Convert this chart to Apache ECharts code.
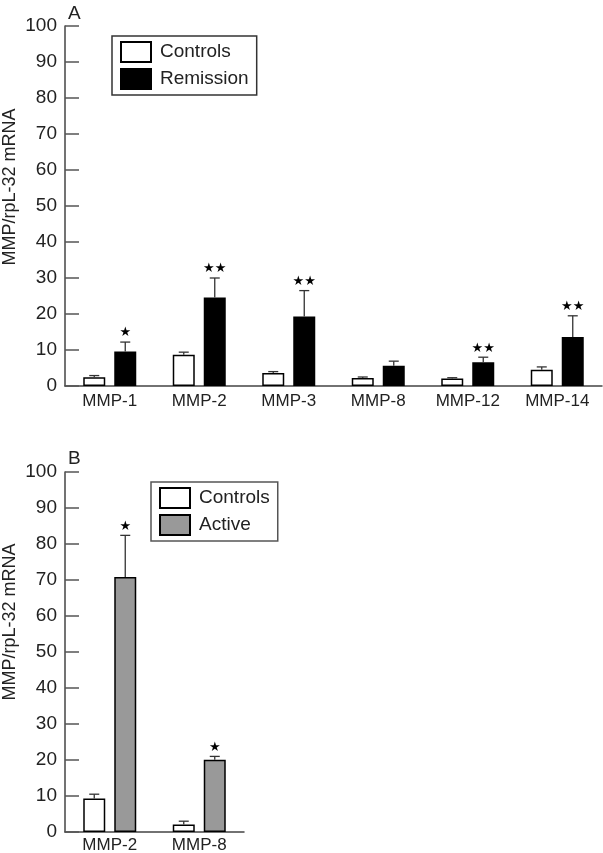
<!DOCTYPE html>
<html>
<head>
<meta charset="utf-8">
<script src="https://cdn.jsdelivr.net/npm/echarts@6/dist/echarts.min.js"></script>
<style>
html,body{margin:0;padding:0;background:#fff;}
#chart{width:603px;height:853px;}
</style>
</head>
<body>
<div id="chart"></div>
<script>
// ---- Data ----
var categoriesA = ['MMP-1', 'MMP-2', 'MMP-3', 'MMP-8', 'MMP-12', 'MMP-14'];
var controlsA = [2.4, 8.7, 3.6, 2.2, 2.1, 4.5];
var controlsAErr = [0.5, 0.7, 0.4, 0.3, 0.2, 0.8];
var remissionA = [9.6, 24.6, 19.3, 5.6, 6.6, 13.6];
var remissionAErr = [2.6, 5.4, 7.2, 1.3, 1.4, 5.9];
var remissionAStars = ['★', '★★', '★★', '', '★★', '★★'];

var categoriesB = ['MMP-2', 'MMP-8'];
var controlsB = [9.3, 2.1];
var controlsBErr = [1.2, 0.9];
var activeB = [70.8, 20.1];
var activeBErr = [11.6, 0.9];
var activeBStars = ['★', '★'];

var yTicks = [0, 10, 20, 30, 40, 50, 60, 70, 80, 90, 100];
var yTitle = 'MMP/rpL-32 mRNA';

// ---- Styles ----
var FONT = 'Liberation Sans';
var BAR_W = 22, BAR_GAP = 9;
var OFFSET = (BAR_W + BAR_GAP) / 2;
var AXIS_COLOR = '#444';

function errData(means, errs) {
  return means.map(function (m, i) { return [i, m, m + errs[i]]; });
}

function errSeries(name, means, errs, side, stars, gridIdx) {
  return {
    type: 'custom',
    name: name + '-err',
    xAxisIndex: gridIdx, yAxisIndex: gridIdx,
    data: errData(means, errs),
    z: 5,
    silent: true,
    renderItem: function (params, api) {
      var lo = api.coord([api.value(0), api.value(1)]);
      var hi = api.coord([api.value(0), api.value(2)]);
      var x = lo[0] + side * OFFSET;
      var children = [
        { type: 'line', shape: { x1: x, y1: lo[1], x2: x, y2: hi[1] },
          style: { stroke: '#333', lineWidth: 1.3 } },
        { type: 'line', shape: { x1: x - 5, y1: hi[1], x2: x + 5, y2: hi[1] },
          style: { stroke: '#333', lineWidth: 1.3 } }
      ];
      var s = stars ? stars[params.dataIndex] : '';
      if (s) {
        children.push({ type: 'text', x: x, y: hi[1] - 9,
          style: { text: s, fontSize: 13, fontFamily: 'DejaVu Sans', fill: '#000',
                   align: 'center', verticalAlign: 'middle' } });
      }
      return { type: 'group', children: children };
    }
  };
}

function yAxisCfg(gridIdx) {
  return {
    type: 'value', gridIndex: gridIdx, min: 0, max: 100, interval: 10,
    position: 'left', offset: 0,
    axisLine: { show: true, onZero: false, lineStyle: { color: AXIS_COLOR, width: 1.5 } },
    axisTick: { show: true, inside: true, length: 14, lineStyle: { color: '#555', width: 1.5 } },
    axisLabel: { fontSize: 19, color: '#222', fontFamily: FONT, margin: 8,
      formatter: function (v) { return yTicks.indexOf(v) >= 0 ? String(v) : ''; } },
    splitLine: { show: false }
  };
}

function xAxisCfg(gridIdx, cats, margin) {
  return {
    type: 'category', gridIndex: gridIdx, data: cats, position: 'bottom',
    axisLine: { show: true, onZero: false, lineStyle: { color: AXIS_COLOR, width: 1.5 } },
    axisTick: { show: false },
    axisLabel: { fontSize: 17, color: '#222', fontFamily: FONT, margin: margin }
  };
}

function yTitleGraphic(cx, cy) {
  return { type: 'text', x: cx, y: cy, rotation: Math.PI / 2,
    style: { text: yTitle, fontSize: 18, fontFamily: FONT, fill: '#222',
             align: 'center', verticalAlign: 'middle' } };
}

var legendCommon = {
  orient: 'vertical', icon: 'rect',
  itemWidth: 30, itemHeight: 20, itemGap: 5, padding: [5, 8, 5, 8],
  borderWidth: 1.5, selectedMode: false,
  textStyle: { fontSize: 19, color: '#222', fontFamily: FONT, padding: [0, 0, 0, 4] }
};

var option = {
  animation: false,
  backgroundColor: '#fff',
  textStyle: { fontFamily: FONT },
  title: [
    { text: 'A', left: 63, top: -1, textStyle: { fontSize: 19, fontWeight: 'normal', color: '#222', fontFamily: FONT } },
    { text: 'B', left: 63, top: 444, textStyle: { fontSize: 19, fontWeight: 'normal', color: '#222', fontFamily: FONT } }
  ],
  graphic: [yTitleGraphic(10, 187), yTitleGraphic(10, 622)],
  legend: [
    Object.assign({}, legendCommon, { left: 112, top: 36, data: ['Controls', 'Remission'], borderColor: '#333' }),
    Object.assign({}, legendCommon, { left: 151, top: 482, data: ['Controls', 'Active'], borderColor: '#555' })
  ],
  grid: [
    { left: 65, top: 26, width: 537, height: 360, containLabel: false, outerBoundsMode: 'none' },
    { left: 65, top: 472, width: 179, height: 360, containLabel: false, outerBoundsMode: 'none' }
  ],
  xAxis: [xAxisCfg(0, categoriesA, 7), xAxisCfg(1, categoriesB, 5)],
  yAxis: [yAxisCfg(0), yAxisCfg(1)],
  series: [
    { type: 'bar', name: 'Controls', xAxisIndex: 0, yAxisIndex: 0, data: controlsA,
      barWidth: BAR_W, barGap: (BAR_GAP / BAR_W * 100) + '%',
      itemStyle: { color: '#fff', borderColor: '#000', borderWidth: 1.5 } },
    { type: 'bar', name: 'Remission', xAxisIndex: 0, yAxisIndex: 0, data: remissionA,
      barWidth: BAR_W, barGap: (BAR_GAP / BAR_W * 100) + '%',
      itemStyle: { color: '#000', borderColor: '#000', borderWidth: 1.5 } },
    { type: 'bar', name: 'Controls', xAxisIndex: 1, yAxisIndex: 1, data: controlsB,
      barWidth: BAR_W, barGap: (BAR_GAP / BAR_W * 100) + '%',
      itemStyle: { color: '#fff', borderColor: '#000', borderWidth: 1.5 } },
    { type: 'bar', name: 'Active', xAxisIndex: 1, yAxisIndex: 1, data: activeB,
      barWidth: BAR_W, barGap: (BAR_GAP / BAR_W * 100) + '%',
      itemStyle: { color: '#999', borderColor: '#000', borderWidth: 1.5 } },
    errSeries('Controls', controlsA, controlsAErr, -1, null, 0),
    errSeries('Remission', remissionA, remissionAErr, 1, remissionAStars, 0),
    errSeries('ControlsB', controlsB, controlsBErr, -1, null, 1),
    errSeries('Active', activeB, activeBErr, 1, activeBStars, 1)
  ]
};

var chart = echarts.init(document.getElementById('chart'), null, { renderer: 'canvas' });
chart.setOption(option);
</script>
</body>
</html>
